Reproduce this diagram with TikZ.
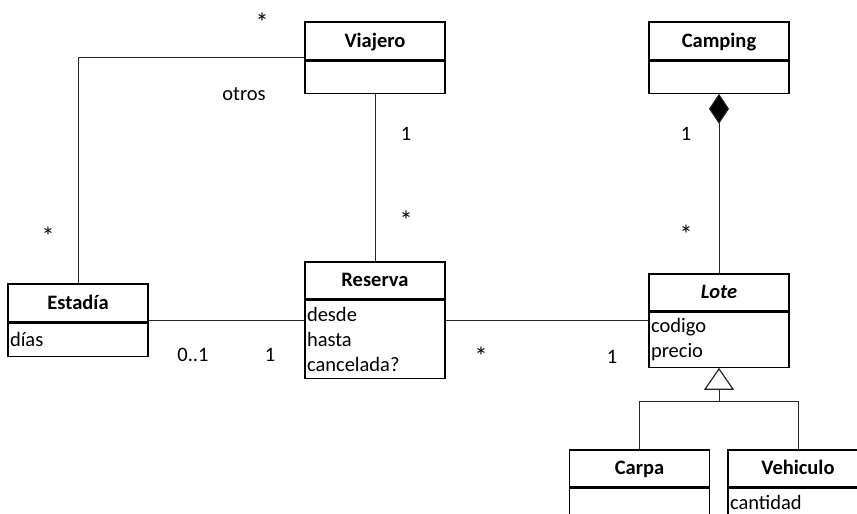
\documentclass[tikz,border=0pt]{standalone}
\usepackage{fontspec}
\setmainfont{Carlito}
\usetikzlibrary{arrows.meta,calc}
\begin{document}
\begin{tikzpicture}[x=1pt,y=1pt,
  every node/.style={font=\fontsize{20.5}{25}\selectfont},
  hdr/.style={draw, line width=1.2pt, minimum width=140pt, inner sep=0pt,
    text height=15pt, text depth=3pt,
    font=\fontsize{20.5}{25}\selectfont\bfseries},
  attrbox/.style={draw, line width=1.2pt, minimum width=140pt,
    text width=136pt, inner xsep=2pt, inner ysep=0pt, align=left, anchor=north},
  conn/.style={line width=1pt, draw=black!85},
  lbl/.style={anchor=base, inner sep=0pt},
  star/.style={lbl, font=\fontsize{26}{25}\selectfont}
]
\useasboundingbox (0,0) rectangle (857,-514);
\clip (0,0) rectangle (857,-514);

% classes: title part and attribute part
\node[hdr, minimum height=38pt] (viajeroT) at (375,-41) {Viajero};
\node[attrbox, minimum height=32pt] (viajeroA) at (viajeroT.south) {};

\node[hdr, minimum height=38pt] (campingT) at (719,-41) {Camping};
\node[attrbox, minimum height=32pt] (campingA) at (campingT.south) {};

\node[hdr, minimum height=38pt] (estadiaT) at (78,-303) {Estadía};
\node[attrbox, minimum height=33pt] (estadiaA) at (estadiaT.south) {días};

\node[hdr, minimum height=37pt] (reservaT) at (375,-280.5) {Reserva};
\node[attrbox, minimum height=78pt] (reservaA) at (reservaT.south) {desde\\hasta\\cancelada?};

\node[hdr, minimum height=37pt, font=\fontsize{20.5}{25}\selectfont\bfseries\itshape] (loteT) at (719,-292.5) {Lote};
\node[attrbox, minimum height=55pt] (loteA) at (loteT.south) {codigo\\precio};

\node[hdr, minimum height=37pt] (carpaT) at (639.5,-468.5) {Carpa};
\node[attrbox, minimum height=40pt] (carpaA) at (carpaT.south) {};

\node[hdr, minimum height=37pt] (vehiculoT) at (798,-468.5) {Vehiculo};
\node[attrbox, minimum height=29pt] (vehiculoA) at (vehiculoT.south) {cantidad};

% mid-height attachment points
\coordinate (viajeroW) at ($(viajeroT.north west)!0.5!(viajeroA.south west)$);
\coordinate (estadiaE) at ($(estadiaT.north east)!0.5!(estadiaA.south east)$);
\coordinate (reservaE) at ($(reservaT.north east)!0.5!(reservaA.south east)$);

% associations
\draw[conn] (estadiaT.north) |- (viajeroW);
\draw[conn] (viajeroA.south) -- (reservaT.north);
\draw[conn] (estadiaE) -- (estadiaE -| reservaA.west);
\draw[conn] (reservaE) -- (reservaE -| loteA.west);

% composition
\draw[conn, {Diamond[length=30pt, width=20pt, fill=black]}-] (campingA.south) -- (loteT.north);

% generalization
\draw[conn, {Triangle[open, length=22pt, width=30pt, line width=1.2pt, fill=white]}-] (loteA.south) -- ++(0,-34) coordinate (gen);
\draw[conn] (carpaT.north) |- (gen) -| (vehiculoT.north);

% multiplicities and role names
\node[star] (m1) at (262,-31) {*};
\node[lbl] (otros) at (244,-100) {otros};
\node[star] (m2) at (48,-245) {*};
\node[lbl] (m3) at (406,-140) {1};
\node[star] (m4) at (406,-229) {*};
\node[lbl] (m5) at (193,-361) {0..1};
\node[lbl] (m6) at (270,-361) {1};
\node[star] (m7) at (481,-365) {*};
\node[lbl] (m8) at (612,-363) {1};
\node[lbl] (m9) at (686,-140) {1};
\node[star] (m10) at (686,-243) {*};
\end{tikzpicture}
\end{document}
